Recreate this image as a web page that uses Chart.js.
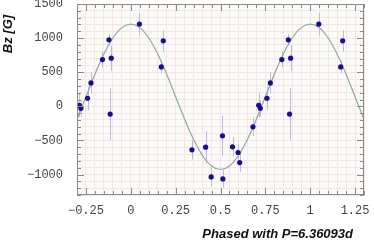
<!DOCTYPE html>
<html>
<head>
<meta charset="utf-8">
<script src="https://cdn.jsdelivr.net/npm/chart.js@4/dist/chart.umd.min.js"></script>
<style>
  html, body { margin: 0; padding: 0; background: #ffffff; }
  canvas { display: block; }
</style>
</head>
<body>
<canvas id="phaseChart" width="374" height="243"></canvas>
<script>
// measured points, rotational phase in [0,1)
const phases = [0.048, 0.170, 0.181, 0.341, 0.417, 0.448, 0.511, 0.513, 0.567, 0.598,
                0.607, 0.681, 0.713, 0.722, 0.759, 0.778, 0.842, 0.878, 0.885, 0.891];
const bzValues = [1206, 578, 960, -638, -599, -1035, -432, -1064, -594, -677,
                  -824, -300, 15, -29, 118, 343, 686, 975, -113, 706];
const bzErrors = [167, 93, 157, 142, 233, 140, 294, 130, 140, 122,
                  140, 135, 176, 120, 170, 155, 115, 85, 380, 185];

// fitted curve
const fitPhase = [-0.30, -0.25, -0.20, -0.15, -0.10, -0.05, 0.00, 0.05, 0.10, 0.15, 0.20,
                  0.25, 0.30, 0.35, 0.40, 0.45, 0.50, 0.55, 0.60, 0.65, 0.70, 0.75,
                  0.80, 0.85, 0.90, 0.95, 1.00, 1.05, 1.10, 1.15, 1.20, 1.25, 1.30];
const fitBz = [-189, 140, 469, 767, 1002, 1154, 1206, 1154, 1002, 767, 469,
               140, -189, -487, -722, -874, -926, -874, -722, -487, -189, 140,
               469, 767, 1002, 1154, 1206, 1154, 1002, 767, 469, 140, -189];

const xLabels = [-0.25, 0, 0.25, 0.5, 0.75, 1, 1.25];
const yLabels = [-1000, -500, 0, 500, 1000, 1500];

const X_MIN = -0.3, X_MAX = 1.3;

// repeat the phased points outside [0,1] so the plot shows more than one cycle
const pointData = [];
phases.forEach(function (p, i) {
    const e = bzErrors[i], y = bzValues[i];
    pointData.push({ x: p, y: y, err: e });
    if (p - 1 >= X_MIN) pointData.push({ x: p - 1, y: y, err: e });
    if (p + 1 <= X_MAX) pointData.push({ x: p + 1, y: y, err: e });
});
const fitData = fitPhase.map(function (p, i) { return { x: p, y: fitBz[i] }; });

function isLabel(v, list) {
    return list.some(function (t) { return Math.abs(t - v) < 1e-6; });
}

const frameColor = '#8a8a8a';

// plot background, error bars under the points
const plotDecor = {
    id: 'plotDecor',
    beforeDraw(chart) {
        const a = chart.chartArea, ctx = chart.ctx;
        ctx.save();
        ctx.fillStyle = '#f8fbf6';
        ctx.fillRect(a.left, a.top, a.right - a.left, a.bottom - a.top);
        ctx.restore();
    },
    beforeDatasetsDraw(chart) {
        const ctx = chart.ctx, xs = chart.scales.x, ys = chart.scales.y;
        ctx.save();
        ctx.strokeStyle = '#bcb9e4';
        ctx.lineWidth = 1;
        pointData.forEach(function (d) {
            const px = Math.round(xs.getPixelForValue(d.x)) + 0.5;
            ctx.beginPath();
            ctx.moveTo(px, ys.getPixelForValue(d.y - d.err));
            ctx.lineTo(px, ys.getPixelForValue(d.y + d.err));
            ctx.stroke();
        });
        ctx.restore();
    },
    afterDatasetsDraw(chart) {
        // frame and inward tick marks on all four sides
        const a = chart.chartArea, ctx = chart.ctx, xs = chart.scales.x, ys = chart.scales.y;
        ctx.save();
        ctx.strokeStyle = frameColor;
        ctx.lineWidth = 1;
        ctx.strokeRect(a.left + 0.5, a.top + 0.5, a.right - a.left - 1, a.bottom - a.top - 1);
        ctx.beginPath();
        xs.ticks.forEach(function (t) {
            const px = Math.round(xs.getPixelForValue(t.value)) + 0.5;
            const len = isLabel(t.value, xLabels) ? 7 : 4;
            ctx.moveTo(px, a.bottom); ctx.lineTo(px, a.bottom - len);
            ctx.moveTo(px, a.top); ctx.lineTo(px, a.top + len);
        });
        ys.ticks.forEach(function (t) {
            const py = Math.round(ys.getPixelForValue(t.value)) + 0.5;
            const len = isLabel(t.value, yLabels) ? 7 : 4;
            ctx.moveTo(a.left, py); ctx.lineTo(a.left + len, py);
            ctx.moveTo(a.right, py); ctx.lineTo(a.right - len, py);
        });
        ctx.stroke();

        // axis titles
        ctx.fillStyle = '#111111';
        ctx.font = 'italic bold 13px "Liberation Sans", Arial, sans-serif';
        ctx.textAlign = 'right';
        ctx.textBaseline = 'alphabetic';
        ctx.fillText('Phased with P=6.36093d', 353, 238);
        ctx.translate(12, 34);
        ctx.rotate(-Math.PI / 2);
        ctx.textAlign = 'center';
        ctx.fillText('Bz [G]', 0, 0);
        ctx.restore();
    }
};

const tickFont = { family: '"Liberation Mono", "Courier New", monospace', size: 12 };

new Chart(document.getElementById('phaseChart'), {
    type: 'line',
    data: {
        datasets: [
            {
                label: 'Fit',
                data: fitData,
                borderColor: '#8faa9a',
                borderWidth: 1.2,
                pointRadius: 0,
                fill: false,
                tension: 0.4,
                order: 2
            },
            {
                label: 'Bz',
                data: pointData,
                showLine: false,
                pointRadius: 2.6,
                pointBackgroundColor: '#1c0c94',
                pointBorderColor: '#1c0c94',
                pointBorderWidth: 0,
                order: 1
            }
        ]
    },
    options: {
        responsive: false,
        animation: false,
        devicePixelRatio: 1,
        layout: { padding: { top: 4, right: 10, left: 0, bottom: 0 } },
        plugins: { legend: { display: false }, tooltip: { enabled: false } },
        scales: {
            x: {
                type: 'linear',
                min: X_MIN,
                max: X_MAX,
                afterFit(scale) {
                    scale.height = 48;
                    scale.paddingLeft = 0;
                    scale.paddingRight = 0;
                },
                border: { display: false },
                grid: { color: '#f9e2ea', drawTicks: false },
                ticks: {
                    stepSize: 0.05,
                    autoSkip: false,
                    maxRotation: 0,
                    padding: 9,
                    color: '#444444',
                    font: tickFont,
                    callback: function (v) {
                        if (!isLabel(v, xLabels)) return '';
                        const r = Math.round(v * 100) / 100;
                        return r < 0 ? '\u2212' + String(-r) : String(r);
                    }
                }
            },
            y: {
                min: -1300,
                max: 1500,
                afterFit(scale) {
                    scale.width = 77;
                    scale.paddingTop = 0;
                    scale.paddingBottom = 0;
                },
                border: { display: false },
                grid: { color: '#f9e2ea', drawTicks: false },
                ticks: {
                    stepSize: 100,
                    autoSkip: false,
                    padding: 14,
                    color: '#444444',
                    font: tickFont,
                    callback: function (v) {
                        if (!isLabel(v, yLabels)) return '';
                        return v < 0 ? '\u2212' + String(-v) : String(v);
                    }
                }
            }
        }
    },
    plugins: [plotDecor]
});
</script>
</body>
</html>
